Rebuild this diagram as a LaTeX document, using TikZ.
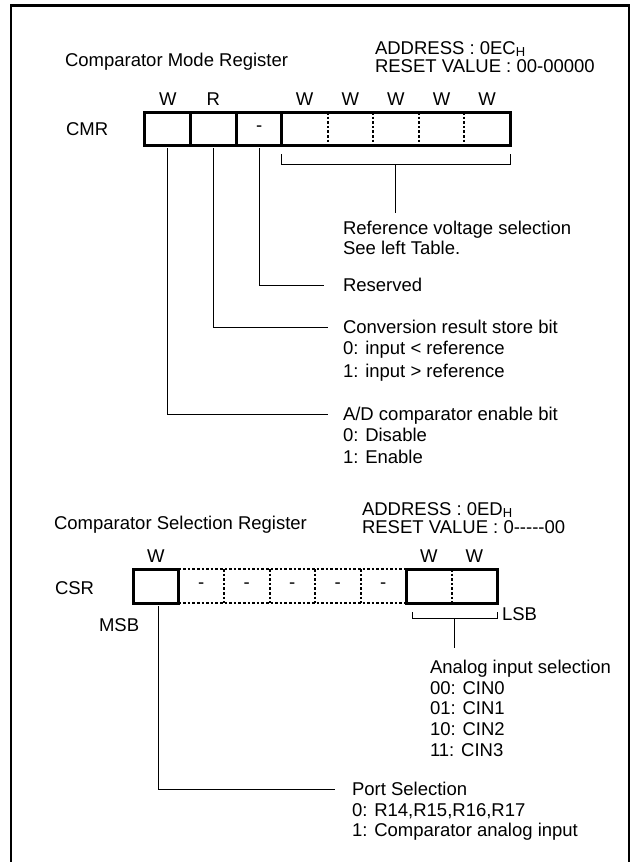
\documentclass[tikz,border=0pt]{standalone}
\usepackage{fontspec}
\setmainfont{Liberation Sans}
\usetikzlibrary{calc}
\newcommand\regfont{\fontsize{18.5}{20.8}\selectfont}
\newcommand\subH{\raisebox{-1.5pt}{\fontsize{13}{13}\selectfont H}}
\tikzset{
  lbl/.style={inner sep=0pt, outer sep=0pt, font=\regfont, text height=13.3pt, text depth=0pt, anchor=west},
  cellbox/.style={minimum width=45.5pt, minimum height=33pt, inner sep=0pt, outer sep=0pt, font=\regfont},
  frameline/.style={line width=2.6pt},
  boxline/.style={line width=3pt},
  dotline/.style={line width=2pt, dash pattern=on 2.6pt off 2pt},
  leader/.style={line width=1pt},
}
\begin{document}
\begin{tikzpicture}[x=1pt,y=-1pt]
\useasboundingbox (0,0) rectangle (631,862);
\draw[frameline] (11,870) -- (11,5.5) -- (629,5.5) -- (629,870);

% ---------------- CMR ----------------
\node[lbl] (t1) at (65,60) {Comparator Mode Register};
\node[lbl] (a1) at (375,48) {ADDRESS : 0EC\subH};
\node[lbl] (r1) at (375,66) {RESET VALUE : 00-00000};
\node[lbl] (cmr) at (66,128.5) {CMR};

\node[cellbox, minimum width=45.625pt, minimum height=33pt] (m1) at (167.8,128.5) {};
\node[cellbox, minimum width=45.625pt, minimum height=33pt] (m2) at (213.4,128.5) {};
\node[cellbox, minimum width=45.625pt, minimum height=33pt] (m3) at (259.1,128.5) {-};
\node[cellbox, minimum width=45.625pt, minimum height=33pt] (m4) at (304.7,128.5) {};
\node[cellbox, minimum width=45.625pt, minimum height=33pt] (m5) at (350.3,128.5) {};
\node[cellbox, minimum width=45.625pt, minimum height=33pt] (m6) at (395.9,128.5) {};
\node[cellbox, minimum width=45.625pt, minimum height=33pt] (m7) at (441.6,128.5) {};
\node[cellbox, minimum width=45.625pt, minimum height=33pt] (m8) at (487.2,128.5) {};

\draw[boxline] (m1.north west) rectangle (m8.south east);
\foreach \i in {1,2,3} \draw[boxline] (m\i.north east) -- (m\i.south east);
\foreach \i in {4,5,6,7} \draw[dotline] (m\i.north east) -- (m\i.south east);

\foreach \i/\l in {1/W,2/R,4/W,5/W,6/W,7/W,8/W}
  \node[lbl, anchor=base] (h\i) at ([yshift=6.5pt]m\i.north) {\l};

% descriptions
\node[lbl] (ref0) at (343,228) {Reference voltage selection};
\node[lbl] (ref1) at (343,248) {See left Table.};
\node[lbl] (res) at (343,285) {Reserved};
\node[lbl] (cv0) at (343,327) {Conversion result store bit};
\node[lbl] (cv1) at (343,348) {0: input < reference};
\node[lbl] (cv2) at (343,371) {1: input > reference};
\node[lbl] (ad0) at (343,414) {A/D comparator enable bit};
\node[lbl] (ad1) at (343,435) {0: Disable};
\node[lbl] (ad2) at (343,457) {1: Enable};

\draw[leader, shorten <=3pt, shorten >=15pt] (m1.south) |- (ad0.west);
\draw[leader, shorten <=3pt, shorten >=15pt] (m2.south) |- (cv0.west);
\draw[leader, shorten <=3pt, shorten >=19pt] (m3.south) |- (res.west);

\coordinate (bl) at ([yshift=-19pt]m4.south west);
\coordinate (br) at ([yshift=-19pt]m8.south east);
\draw[leader] ([yshift=-9pt]m4.south west) -- (bl) -- (br) -- ([yshift=-9pt]m8.south east);
\coordinate (bm) at ($(bl)!0.5!(br)$);
\draw[leader, shorten >=8pt] (bm) -- (bm |- ref0.north);

% ---------------- CSR ----------------
\node[lbl] (t2) at (54,523) {Comparator Selection Register};
\node[lbl] (a2) at (362,509) {ADDRESS : 0ED\subH};
\node[lbl] (r2) at (362,527) {RESET VALUE : 0-{}-{}-{}-{}-00};
\node[lbl] (csr) at (55,588) {CSR};

\node[cellbox, minimum height=34pt] (c1) at (155.75,586) {};
\node[cellbox, minimum height=34pt] (c2) at (201.25,586) {-};
\node[cellbox, minimum height=34pt] (c3) at (246.75,586) {-};
\node[cellbox, minimum height=34pt] (c4) at (292.25,586) {-};
\node[cellbox, minimum height=34pt] (c5) at (337.75,586) {-};
\node[cellbox, minimum height=34pt] (c6) at (383.25,586) {-};
\node[cellbox, minimum height=34pt] (c7) at (428.75,586) {};
\node[cellbox, minimum height=34pt] (c8) at (474.25,586) {};

\draw[dotline] (c2.north west) -- (c6.north east);
\draw[dotline] (c2.south west) -- (c6.south east);
\foreach \i in {2,3,4,5} \draw[dotline] (c\i.north east) -- (c\i.south east);
\draw[dotline] (c7.north east) -- (c7.south east);
\draw[boxline] (c1.north west) rectangle (c1.south east);
\draw[boxline] (c7.north west) rectangle (c8.south east);

\foreach \i in {1,7,8}
  \node[lbl, anchor=base] (w\i) at ([yshift=6.5pt]c\i.north) {W};

\node[lbl] (msb) at (99,625) {MSB};
\node[lbl] (lsb) at ([xshift=5pt,yshift=-11pt]c8.south east) {LSB};

\node[lbl] (an0) at (430,667) {Analog input selection};
\node[lbl] (an1) at (430,688) {00: CIN0};
\node[lbl] (an2) at (430,708) {01: CIN1};
\node[lbl] (an3) at (430,729) {10: CIN2};
\node[lbl] (an4) at (430,750) {11: CIN3};
\node[lbl] (pt0) at (352,789) {Port Selection};
\node[lbl] (pt1) at (352,810) {0: R14,R15,R16,R17};
\node[lbl] (pt2) at (352,830) {1: Comparator analog input};

\draw[leader, shorten <=3pt, shorten >=17pt] ([xshift=3pt]c1.south) |- (pt0.west);

\coordinate (ll) at ([xshift=6pt,yshift=-15pt]c7.south west);
\coordinate (lr) at ([yshift=-15pt]c8.south east);
\draw[leader] ([xshift=6pt,yshift=-9pt]c7.south west) -- (ll) -- (lr) -- ([yshift=-9pt]c8.south east);
\coordinate (lm) at ($(ll)!0.5!(lr)$);
\draw[leader, shorten >=12pt] (lm) -- (lm |- an0.north);
\end{tikzpicture}
\end{document}
